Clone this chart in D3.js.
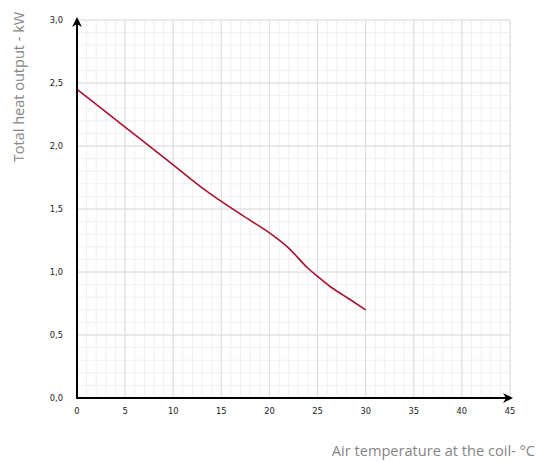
<!DOCTYPE html>
<html>
<head>
<meta charset="utf-8">
<script src="https://cdn.jsdelivr.net/npm/d3@7"></script>
<style>
  html, body { margin: 0; padding: 0; background: #fff; }
  svg { display: block; }
</style>
</head>
<body>
<svg id="chart" width="554" height="462"></svg>
<script>
// Heat output curve of the coil versus air temperature
const temperatures = [0, 5, 10, 12.8, 15, 18, 20, 22, 24, 25, 26.3, 27.7, 30];
const heatOutput   = [2.45, 2.15, 1.85, 1.68, 1.56, 1.41, 1.31, 1.19, 1.03, 0.965, 0.885, 0.815, 0.70];
const xTicks = [0, 5, 10, 15, 20, 25, 30, 35, 40, 45];
const yTicks = [0, 0.5, 1.0, 1.5, 2.0, 2.5, 3.0];
const xTitle = "Air temperature at the coil- °C";
const yTitle = "Total heat output - kW";

const svg = d3.select("#chart");
const x = d3.scaleLinear().domain([0, 45]).range([77, 510]);
const y = d3.scaleLinear().domain([0, 3]).range([398, 20]);

const grid = svg.append("g");
// minor grid: every 1 °C and every 0.1 kW
grid.selectAll(".vminor").data(d3.range(1, 46)).join("line")
  .attr("x1", d => x(d)).attr("x2", d => x(d))
  .attr("y1", y(0)).attr("y2", y(3))
  .attr("stroke", "#f0f0f0").attr("stroke-width", 1);
grid.selectAll(".hminor").data(d3.range(1, 31).map(i => i / 10)).join("line")
  .attr("x1", x(0)).attr("x2", x(45))
  .attr("y1", d => y(d)).attr("y2", d => y(d))
  .attr("stroke", "#f0f0f0").attr("stroke-width", 1);
// major grid
grid.selectAll(".vmajor").data(xTicks.slice(1)).join("line")
  .attr("x1", d => x(d)).attr("x2", d => x(d))
  .attr("y1", y(0)).attr("y2", y(3))
  .attr("stroke", "#dcdcdc").attr("stroke-width", 1);
grid.selectAll(".hmajor").data(yTicks.slice(1)).join("line")
  .attr("x1", x(0)).attr("x2", x(45))
  .attr("y1", d => y(d)).attr("y2", d => y(d))
  .attr("stroke", "#dcdcdc").attr("stroke-width", 1);

// arrowhead marker for the axes
svg.append("defs").append("marker")
  .attr("id", "arrow").attr("viewBox", "0 0 10 10")
  .attr("refX", 8).attr("refY", 5)
  .attr("markerWidth", 5).attr("markerHeight", 5)
  .attr("markerUnits", "strokeWidth")
  .attr("orient", "auto")
  .append("path").attr("d", "M0,0 L10,5 L0,10 L3,5 Z").attr("fill", "#000");

// curve
const line = d3.line()
  .x((d, i) => x(temperatures[i]))
  .y(d => y(d))
  .curve(d3.curveMonotoneX);
svg.append("path")
  .datum(heatOutput)
  .attr("d", line)
  .attr("fill", "none")
  .attr("stroke", "#a8102e")
  .attr("stroke-width", 1.6);

// axes lines with arrows
svg.append("line")
  .attr("x1", x(0)).attr("y1", y(0)).attr("x2", x(45) + 1).attr("y2", y(0))
  .attr("stroke", "#000").attr("stroke-width", 2)
  .attr("marker-end", "url(#arrow)");
svg.append("line")
  .attr("x1", x(0)).attr("y1", y(0) + 1).attr("x2", x(0)).attr("y2", y(3) - 1)
  .attr("stroke", "#000").attr("stroke-width", 2)
  .attr("marker-end", "url(#arrow)");

// tick labels
const fmt = d => d.toFixed(1).replace(".", ",");
svg.append("g").selectAll("text").data(xTicks).join("text")
  .attr("x", d => x(d)).attr("y", 414)
  .attr("text-anchor", "middle")
  .attr("font-family", "DejaVu Sans, sans-serif")
  .attr("font-size", 8.3).attr("fill", "#222")
  .text(d => d);
svg.append("g").selectAll("text").data(yTicks).join("text")
  .attr("x", 63).attr("y", d => y(d) + 3)
  .attr("text-anchor", "end")
  .attr("font-family", "DejaVu Sans, sans-serif")
  .attr("font-size", 8.3).attr("fill", "#222")
  .text(fmt);

// axis titles
svg.append("text")
  .attr("x", 535).attr("y", 456)
  .attr("text-anchor", "end")
  .attr("font-family", "Open Sans, sans-serif")
  .attr("font-size", 14.6).attr("fill", "#858585")
  .text(xTitle);
svg.append("text")
  .attr("transform", "translate(24,87) rotate(-90)")
  .attr("text-anchor", "middle")
  .attr("font-family", "Open Sans, sans-serif")
  .attr("font-size", 14.5).attr("fill", "#858585")
  .text(yTitle);
</script>
</body>
</html>
